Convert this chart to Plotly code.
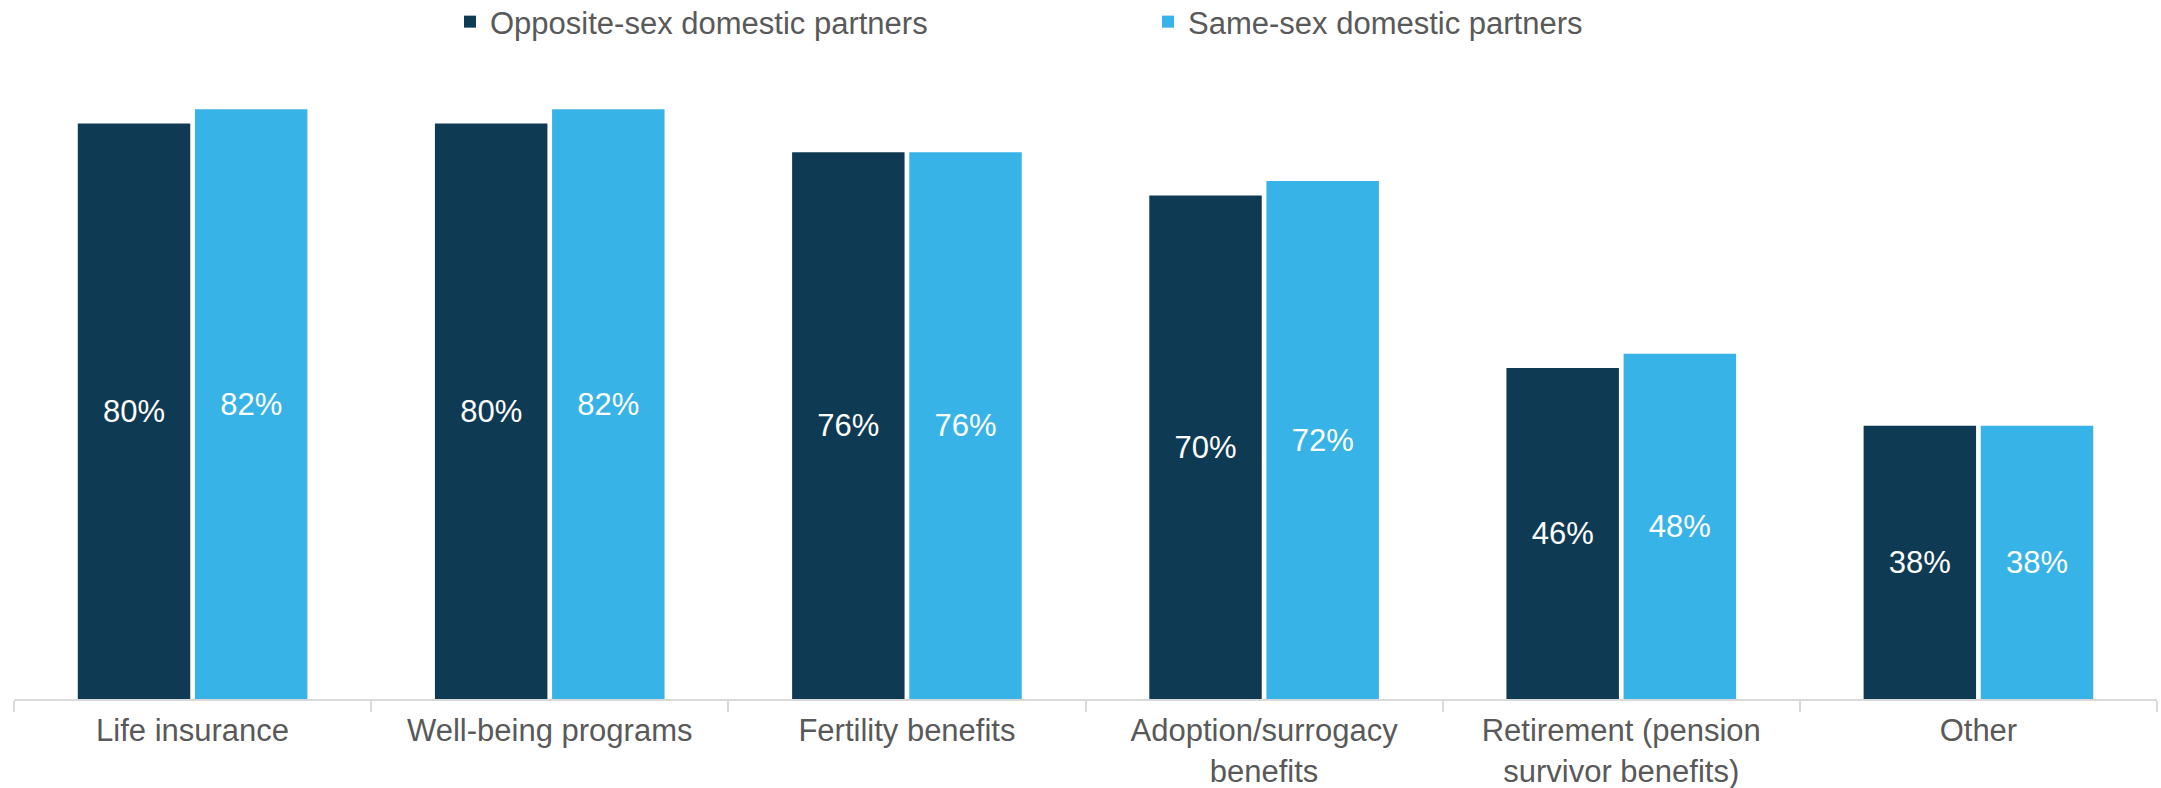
import plotly.graph_objects as go

# data
categories = [
    "Life insurance",
    "Well-being programs",
    "Fertility benefits",
    "Adoption/surrogacy<br>benefits",
    "Retirement (pension<br>survivor benefits)",
    "Other",
]
opposite_sex = [80, 80, 76, 70, 46, 38]
same_sex = [82, 82, 76, 72, 48, 38]

DARK = "#0F3A54"
LIGHT = "#38B3E7"
GREY_TEXT = "#595959"
FONT = "Arial, Liberation Sans, sans-serif"

W, H = 2161, 788

fig = go.Figure()

for name, vals, color in [
    ("Opposite-sex domestic partners", opposite_sex, DARK),
    ("Same-sex domestic partners", same_sex, LIGHT),
]:
    fig.add_trace(
        go.Bar(
            x=categories,
            y=vals,
            name=name,
            marker=dict(color=color, line=dict(width=0)),
            text=[f"{v}%" for v in vals],
            textposition="inside",
            insidetextanchor="middle",
            textangle=0,
            textfont=dict(color="white", size=31, family=FONT),
        )
    )

fig.update_layout(
    width=W,
    height=H,
    barmode="group",
    bargap=0.344,
    bargroupgap=0.04,
    plot_bgcolor="white",
    paper_bgcolor="white",
    margin=dict(l=14, r=4, t=66, b=89),
    font=dict(family=FONT, color=GREY_TEXT, size=31),
    legend=dict(
        orientation="h",
        xref="container",
        yref="container",
        x=450 / W,
        xanchor="left",
        y=1 - 22 / H,
        yanchor="middle",
        entrywidth=653,
        entrywidthmode="pixels",
        itemwidth=30,
        font=dict(size=31, color=GREY_TEXT, family=FONT),
        bgcolor="rgba(0,0,0,0)",
    ),
)

fig.update_xaxes(
    automargin=False,
    showline=True,
    linecolor="#D9D9D9",
    linewidth=2,
    ticks="outside",
    tickson="boundaries",
    ticklen=11,
    tickcolor="#D9D9D9",
    tickwidth=2,
    ticklabelstandoff=3,
    tickfont=dict(size=31, color=GREY_TEXT, family=FONT),
    showgrid=False,
)
fig.update_yaxes(
    automargin=False,
    range=[0, 88],
    showticklabels=False,
    showgrid=False,
    zeroline=False,
    showline=False,
)

# drop the browser's default body margin so the figure fills the window exactly
fig.write_html(
    "out.html",
    config={"displayModeBar": False},
    post_script="document.body.style.margin = '0';",
)
